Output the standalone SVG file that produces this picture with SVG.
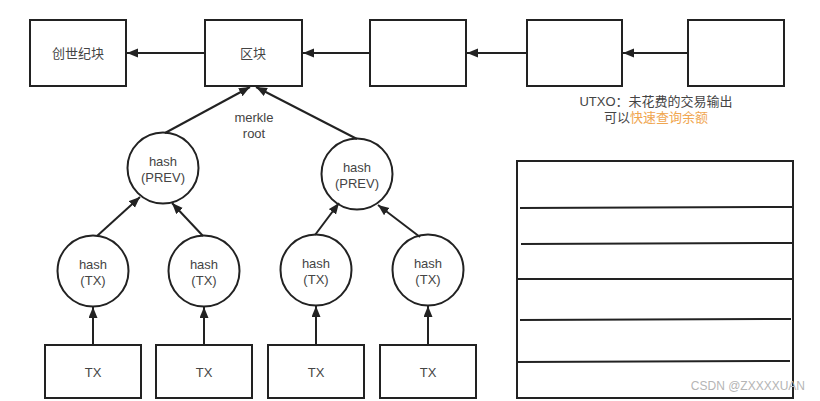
<svg xmlns="http://www.w3.org/2000/svg" width="820" height="401" viewBox="0 0 820 401">
<defs>
<marker id="ah" markerUnits="userSpaceOnUse" markerWidth="12" markerHeight="10" refX="11" refY="4.5" orient="auto">
<path d="M0,0 L11,4.5 L0,9 z" fill="#222"/>
</marker>
<style>
.box{fill:#fff;stroke:#222;stroke-width:2}
.c{fill:#fff;stroke:#222;stroke-width:2}
.t{font-family:"Liberation Sans","Noto Sans CJK SC",sans-serif;font-size:13px;fill:#444;text-anchor:middle;dominant-baseline:central}
.e{fill:none;stroke:#222;stroke-width:2;marker-end:url(#ah)}
.ln{stroke:#222;stroke-width:2}
</style>
</defs>
<rect width="820" height="401" fill="#fff"/>
<g id="genesis"><rect class="box" x="30" y="20" width="96" height="66"/><text class="t" x="78" y="53">创世纪块</text></g>
<g id="block"><rect class="box" x="205" y="20" width="97" height="66"/><text class="t" x="253" y="53">区块</text></g>
<g id="block3"><rect class="box" x="370" y="20" width="96" height="66"/></g>
<g id="block4"><rect class="box" x="527" y="20" width="95" height="66"/></g>
<g id="block5"><rect class="box" x="688" y="20" width="96" height="66"/></g>
<g id="utxo-label"><text class="t" x="656" y="101">UTXO：未花费的交易输出</text><text class="t" x="656" y="117">可以<tspan fill="#f0a650">快速查询余额</tspan></text></g>
<g id="merkle-label"><text class="t" x="254" y="117">merkle</text><text class="t" x="254" y="133">root</text></g>
<g id="prev1"><circle class="c" cx="163" cy="168" r="35.5"/><text class="t" x="163" y="161">hash</text><text class="t" x="163" y="177">(PREV)</text></g>
<g id="prev2"><circle class="c" cx="357" cy="174" r="35.5"/><text class="t" x="357" y="167">hash</text><text class="t" x="357" y="183">(PREV)</text></g>
<g id="htx1"><circle class="c" cx="93" cy="271" r="35.5"/><text class="t" x="93" y="264">hash</text><text class="t" x="93" y="280">(TX)</text></g>
<g id="htx2"><circle class="c" cx="204" cy="271" r="35.5"/><text class="t" x="204" y="264">hash</text><text class="t" x="204" y="280">(TX)</text></g>
<g id="htx3"><circle class="c" cx="316" cy="270" r="35.5"/><text class="t" x="316" y="263">hash</text><text class="t" x="316" y="279">(TX)</text></g>
<g id="htx4"><circle class="c" cx="428" cy="270" r="35.5"/><text class="t" x="428" y="263">hash</text><text class="t" x="428" y="279">(TX)</text></g>
<g id="tx1"><rect class="box" x="45" y="345" width="96" height="53"/><text class="t" x="93" y="372">TX</text></g>
<g id="tx2"><rect class="box" x="156" y="345" width="96" height="53"/><text class="t" x="204" y="372">TX</text></g>
<g id="tx3"><rect class="box" x="268" y="345" width="96" height="53"/><text class="t" x="316" y="372">TX</text></g>
<g id="tx4"><rect class="box" x="380" y="345" width="96" height="53"/><text class="t" x="428" y="372">TX</text></g>
<g id="table">
<rect class="box" x="517" y="161" width="276" height="237"/>
<line class="ln" x1="520" y1="208" x2="792" y2="207"/>
<line class="ln" x1="521" y1="244" x2="792" y2="243"/>
<line class="ln" x1="518" y1="279" x2="792" y2="279"/>
<line class="ln" x1="520" y1="320" x2="791" y2="319"/>
<line class="ln" x1="518" y1="362" x2="790" y2="361"/>
</g>
<g id="connectors">
<line class="e" x1="205" y1="53" x2="127" y2="53"/>
<line class="e" x1="370" y1="53" x2="303" y2="53"/>
<line class="e" x1="527" y1="53" x2="467" y2="53"/>
<line class="e" x1="688" y1="53" x2="623" y2="53"/>
<line class="e" x1="165" y1="133" x2="250" y2="87"/>
<line class="e" x1="357" y1="139" x2="256" y2="87"/>
<line class="e" x1="97" y1="236" x2="140" y2="197"/>
<line class="e" x1="203" y1="236" x2="172" y2="203"/>
<line class="e" x1="315" y1="235" x2="339" y2="203"/>
<line class="e" x1="420" y1="237" x2="378" y2="205"/>
<line class="e" x1="93" y1="345" x2="93" y2="307"/>
<line class="e" x1="204" y1="345" x2="204" y2="307"/>
<line class="e" x1="316" y1="345" x2="316" y2="306"/>
<line class="e" x1="428" y1="345" x2="428" y2="306"/>
</g>
<text x="805" y="390" font-family="Liberation Sans, Arial, sans-serif" font-size="12" fill="#b5b5b5" text-anchor="end">CSDN @ZXXXXUAN</text>
</svg>
